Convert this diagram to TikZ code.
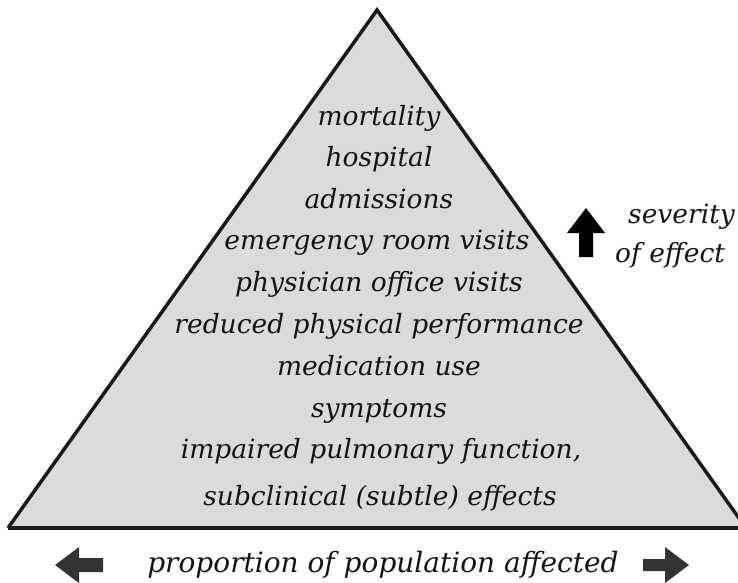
\documentclass[tikz,border=0pt]{standalone}
\usepackage{fontspec}
\setmainfont{DejaVu Serif}
\begin{document}
\begin{tikzpicture}[x=1pt,y=-1pt,
  lbl/.style={font=\fontsize{26.5}{30}\selectfont\itshape, anchor=base, inner sep=0pt, text=black!92}]
\useasboundingbox (0,0) rectangle (738,582);
\begin{scope}
\clip (0,0) rectangle (738,582);
\coordinate (apex) at (377,10);
\coordinate (bl) at (8,528);
\coordinate (br) at (746,528);
\fill[black!14] (apex) -- (br) -- (bl) -- cycle;
\draw[line width=3.5pt, line join=miter, black!90] (bl) -- (apex) -- (br);
\draw[line width=4.5pt, black!90] (bl) -- (br);
\end{scope}
\node[lbl] (l1) at (379,125) {mortality};
\node[lbl] (l2) at (379,166) {hospital};
\node[lbl] (l3) at (379,208) {admissions};
\node[lbl] (l4) at (377,249) {emergency room visits};
\node[lbl] (l5) at (379,291) {physician office visits};
\node[lbl] (l6) at (379,333) {reduced physical performance};
\node[lbl] (l7) at (379,375) {medication use};
\node[lbl] (l8) at (379,417) {symptoms};
\node[lbl] (l9) at (381,458) {impaired pulmonary function,};
\node[lbl] (l10) at (380,505) {subclinical (subtle) effects};
\node[lbl, anchor=base west] (sev) at (628,223) {severity};
\node[lbl, anchor=base west] (ofe) at (615,262) {of effect};
\node[lbl, font=\fontsize{28}{32}\selectfont\itshape] (prop) at (383,572) {proportion of population affected};
% up arrow
\fill[black] (586,208) -- (605,233) -- (593,233) -- (593,257) -- (579,257) -- (579,233) -- (567,233) -- cycle;
% left arrow
\fill[black!80] (55,565) -- (79,547) -- (79,558) -- (103,558) -- (103,572) -- (79,572) -- (79,583) -- cycle;
% right arrow
\fill[black!80] (689,565) -- (665,547) -- (665,559) -- (643,559) -- (643,571) -- (665,571) -- (665,583) -- cycle;
\end{tikzpicture}
\end{document}
